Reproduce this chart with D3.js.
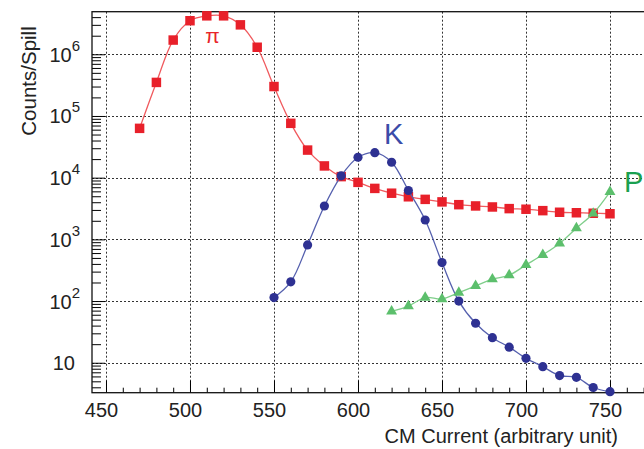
<!DOCTYPE html>
<html>
<head>
<meta charset="utf-8">
<script src="https://cdn.jsdelivr.net/npm/d3@7"></script>
<style>
  body { margin: 0; background: #fff; }
  svg { display: block; font-family: "Liberation Sans", Arial, sans-serif; }
</style>
</head>
<body>
<script>
// CM current settings (x) for each particle series
var piCurrent = [470, 480, 490, 500, 510, 520, 530, 540, 550, 560, 570, 580, 590, 600, 610,
                 620, 630, 640, 650, 660, 670, 680, 690, 700, 710, 720, 730, 740, 750];
var piCounts  = [6.3e4, 3.5e5, 1.7e6, 3.5e6, 4.2e6, 4.2e6, 3.0e6, 1.3e6, 3.0e5, 7.6e4, 2.8e4, 1.55e4, 1.04e4, 8.4e3, 6.7e3,
                 5.6e3, 4.9e3, 4.45e3, 4.05e3, 3.65e3, 3.48e3, 3.35e3, 3.15e3, 3.08e3, 2.92e3, 2.75e3, 2.7e3, 2.65e3, 2.6e3];

var kCurrent = [550, 560, 570, 580, 590, 600, 610, 620, 630, 640, 650, 660, 670, 680, 690, 700, 710, 720, 730, 740, 750];
var kCounts  = [114, 205, 812, 3.47e3, 1.07e4, 2.14e4, 2.54e4, 1.78e4, 6.2e3, 2.06e3, 420, 100, 43.7, 25.5, 17.9, 11.8, 8.65, 6.2, 5.8, 3.97, 3.4];

var pCurrent = [620, 630, 640, 650, 660, 670, 680, 690, 700, 710, 720, 730, 740, 750];
var pCounts  = [68, 83, 114, 108, 137, 176, 226, 263, 385, 562, 860, 1520, 2630, 5900];

var xMajor = [450, 500, 550, 600, 650, 700, 750];
var yMajor = [10, 1e2, 1e3, 1e4, 1e5, 1e6];

var W = 644, H = 449;
var fLeft = 92, fTop = 11.7, fRight = 650, fBottom = 392.7;

var svg = d3.select("body").append("svg")
    .attr("width", W)
    .attr("height", H);

var x = d3.scaleLinear().domain([441.67, 450 + (fRight - 106) / 1.68]).range([fLeft, fRight]);
var y = d3.scaleLog().domain([3.27, 4.9e6]).range([fBottom, fTop]);

// grid
var grid = svg.append("g").attr("stroke", "#333").attr("stroke-width", 1).attr("stroke-dasharray", "2,2");
grid.selectAll(".gx").data(xMajor).enter().append("line")
    .attr("x1", function(d) { return Math.round(x(d)) + 0.5; })
    .attr("x2", function(d) { return Math.round(x(d)) + 0.5; })
    .attr("y1", fTop).attr("y2", fBottom);
grid.selectAll(".gy").data(yMajor).enter().append("line")
    .attr("y1", function(d) { return Math.round(y(d)) + 0.5; })
    .attr("y2", function(d) { return Math.round(y(d)) + 0.5; })
    .attr("x1", fLeft).attr("x2", fRight);

// minor ticks
var xMinor = d3.range(450, 780, 10).filter(function(d) { return d % 50 != 0; });
var yMinor = [];
[1, 10, 100, 1e3, 1e4, 1e5, 1e6].forEach(function(dec) {
  for (var k = 2; k <= 9; k++) {
    var v = k * dec;
    if (v > 3.27 && v < 4.9e6) yMinor.push(v);
  }
});

svg.append("g")
    .attr("transform", "translate(0," + fBottom + ")")
    .call(d3.axisBottom(x).tickValues(xMinor).tickSizeInner(-5).tickSizeOuter(0).tickFormat(""))
    .call(function(g) { g.select(".domain").remove(); });
svg.append("g")
    .attr("transform", "translate(0," + fBottom + ")")
    .call(d3.axisBottom(x).tickValues(xMajor).tickSizeInner(-12).tickSizeOuter(0).tickPadding(10))
    .call(function(g) {
      g.select(".domain").remove();
      g.selectAll("text").attr("font-size", 20).attr("fill", "#222").attr("dx", -5)
        .attr("font-family", "'Liberation Sans', Arial, sans-serif");
    });

svg.append("g")
    .attr("transform", "translate(" + fLeft + ",0)")
    .call(d3.axisLeft(y).tickValues(yMinor).tickSizeInner(-9).tickSizeOuter(0).tickFormat(""))
    .call(function(g) { g.select(".domain").remove(); });
svg.append("g")
    .attr("transform", "translate(" + fLeft + ",0)")
    .call(d3.axisLeft(y).tickValues(yMajor).tickSizeInner(-13).tickSizeOuter(0).tickFormat(""))
    .call(function(g) { g.select(".domain").remove(); });

// y labels 10, 10^2 ... 10^6
var ylab = svg.append("g").attr("font-size", 20).attr("fill", "#222").attr("text-anchor", "end");
yMajor.forEach(function(d) {
  var e = Math.round(Math.log10(d));
  var t = ylab.append("text").attr("x", fLeft - 12).attr("y", y(d) + 7.5);
  if (e == 1) {
    t.attr("x", fLeft - 17).text("10");
  } else {
    t.append("tspan").text("10");
    t.append("tspan").attr("font-size", 15).attr("dy", -11).text(e);
  }
});

// frame
svg.append("rect")
    .attr("x", fLeft).attr("y", fTop)
    .attr("width", fRight - fLeft).attr("height", fBottom - fTop)
    .attr("fill", "none").attr("stroke", "#111").attr("stroke-width", 1.3);

// axis titles
svg.append("text")
    .attr("x", 618).attr("y", 443)
    .attr("text-anchor", "end").attr("font-size", 20).attr("fill", "#222")
    .text("CM Current (arbitrary unit)");
svg.append("text")
    .attr("transform", "translate(36,81) rotate(-90)")
    .attr("text-anchor", "middle").attr("font-size", 20.5).attr("fill", "#222")
    .text("Counts/Spill");

// series
var line = d3.line()
    .x(function(d) { return x(d[0]); })
    .y(function(d) { return y(d[1]); })
    .curve(d3.curveCatmullRom.alpha(0.5));

function series(xs, ys, lineColor, markColor, shape) {
  var pts = xs.map(function(v, i) { return [v, ys[i]]; });
  svg.append("path").datum(pts)
      .attr("d", line)
      .attr("fill", "none")
      .attr("stroke", lineColor)
      .attr("stroke-width", 1.3);
  var sym = d3.symbol().type(shape.type).size(shape.size);
  svg.append("g").selectAll("path").data(pts).enter().append("path")
      .attr("transform", function(d) { return "translate(" + x(d[0]) + "," + y(d[1]) + ")"; })
      .attr("d", sym)
      .attr("fill", markColor);
}

series(piCurrent, piCounts, "#f05a5e", "#e8202a", {type: d3.symbolSquare, size: 90});
series(kCurrent, kCounts, "#5560ae", "#2e3192", {type: d3.symbolCircle, size: 66});
series(pCurrent, pCounts, "#7fce8a", "#5cbf6c", {type: d3.symbolTriangle, size: 52});

// particle labels
svg.append("text").attr("x", 212.5).attr("y", 43).attr("text-anchor", "middle")
    .attr("font-size", 21).attr("fill", "#e8252b").text("\u03c0");
svg.append("text").attr("x", 384).attr("y", 143.5)
    .attr("font-size", 29).attr("fill", "#3b4ba8").text("K");
svg.append("text").attr("x", 624).attr("y", 191.5)
    .attr("font-size", 29).attr("fill", "#1aa050").text("P");
</script>
</body>
</html>
